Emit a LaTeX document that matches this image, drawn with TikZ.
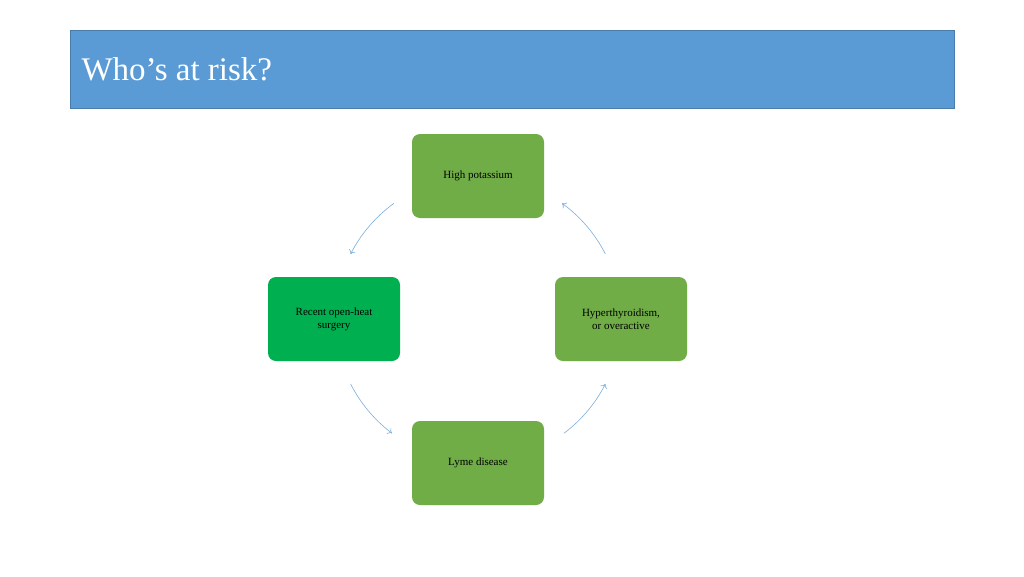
\documentclass[tikz,border=0pt]{standalone}
\usepackage{fontspec}
\setmainfont{Liberation Serif}
\usetikzlibrary{arrows.meta}
\definecolor{titleblue}{HTML}{5B9BD5}
\definecolor{gA}{HTML}{70AD47}
\definecolor{gB}{HTML}{00B050}
\definecolor{arc}{HTML}{7AAEDD}
\begin{document}
\begin{tikzpicture}[x=1pt,y=-1pt,
  box/.style={rounded corners=8pt,minimum width=132pt,minimum height=84pt,align=center,font=\fontsize{11}{13}\selectfont,text=black,inner sep=0pt},
  cyc/.style={draw=arc,line width=0.6pt,-{To[length=4pt,width=7pt]}}]
\useasboundingbox (0,0) rectangle (1024,576);
\fill[white] (0,0) rectangle (1024,576);
\node[fill=titleblue,draw=titleblue!80!black,line width=0.5pt,minimum width=884pt,minimum height=78pt,inner sep=0pt,anchor=north west] (title) at (70,30) {};
\node[anchor=west,text=white,font=\fontsize{33}{38}\selectfont] (tt) at (78,69) {Who’s at risk?};
\node[box,fill=gA] (a) at (478,176) {High potassium};
\node[box,fill=gA] (b) at (621,319) {Hyperthyroidism,\\or overactive};
\node[box,fill=gA] (c) at (478,463) {Lyme disease};
\node[box,fill=gB] (d) at (334,319) {Recent open-heat\\surgery};
\coordinate (o) at (478,319);
\draw[cyc] ([shift={(53:143)}]o) arc (53:27:143);
\draw[cyc] ([shift={(-27:143)}]o) arc (-27:-54:143);
\draw[cyc] ([shift={(-126:143)}]o) arc (-126:-153:143);
\draw[cyc] ([shift={(153:143)}]o) arc (153:127:143);
\end{tikzpicture}
\end{document}
